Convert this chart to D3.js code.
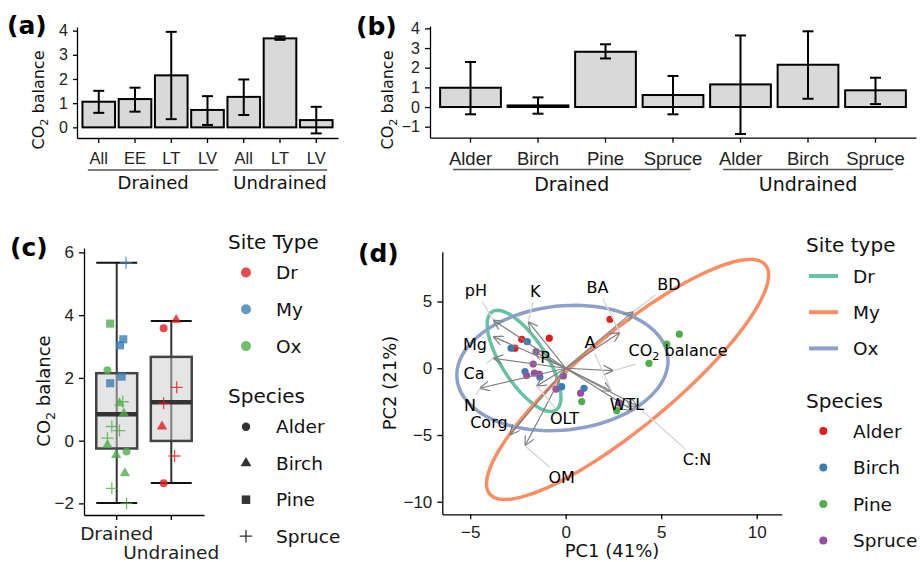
<!DOCTYPE html>
<html>
<head>
<meta charset="utf-8">
<script src="https://cdn.jsdelivr.net/npm/d3@7"></script>
<style>
    body { margin: 0; background: #fff; }
    svg { display: block; font-family: 'DejaVu Sans', sans-serif; }
    .axis path, .axis line { stroke: #000; stroke-width: 1.3; }
    .axis text { fill: #222; }
</style>
</head>
<body>
<div id="chart"></div>
<script>

// ---- (a) CO2 balance by drainage / sub-class ----
const aGroup = ["Drained", "Drained", "Drained", "Drained", "Undrained", "Undrained", "Undrained"];
const aLabel = ["All", "EE", "LT", "LV", "All", "LT", "LV"];
const aMean  = [1.06, 1.17, 2.15, 0.72, 1.26, 3.68, 0.30];
const aLow   = [0.60, 0.65, 0.34, 0.10, 0.51, 3.62, -0.25];
const aHigh  = [1.51, 1.64, 3.95, 1.29, 1.98, 3.76, 0.85];
const aTicks = [0, 1, 2, 3, 4];

// ---- (b) CO2 balance by species ----
const bGroup = ["Drained", "Drained", "Drained", "Drained", "Undrained", "Undrained", "Undrained"];
const bLabel = ["Alder", "Birch", "Pine", "Spruce", "Alder", "Birch", "Spruce"];
const bMean  = [0.98, 0.08, 2.81, 0.61, 1.15, 2.15, 0.85];
const bLow   = [-0.37, -0.34, 2.47, -0.37, -1.37, 0.42, 0.15];
const bHigh  = [2.29, 0.49, 3.19, 1.58, 3.64, 3.85, 1.49];
const bTicks = [-1, 0, 1, 2, 3, 4];

// ---- (c) boxplots + sites ----
const cBoxGroup = ["Drained", "Undrained"];
const cWhiskLo  = [-1.99, -1.35];
const cQ1       = [-0.25, -0.01];
const cMedian   = [0.84, 1.22];
const cQ3       = [2.15, 2.67];
const cWhiskHi  = [5.67, 3.81];

const cDrainage = ["Drained", "Drained", "Drained", "Drained", "Drained", "Drained", "Drained",
    "Drained", "Drained", "Drained", "Drained", "Drained", "Drained", "Drained", "Drained",
    "Drained", "Drained", "Drained", "Drained",
    "Undrained", "Undrained", "Undrained", "Undrained", "Undrained", "Undrained", "Undrained"];
const cSite = ["My", "Ox", "My", "My", "Ox", "My", "My", "Ox", "Ox", "Ox", "Ox", "Ox", "Ox",
    "Ox", "Ox", "Ox", "Ox", "Ox", "Ox",
    "Dr", "Dr", "Dr", "Dr", "Dr", "Dr", "Dr"];
const cSpecies = ["Spruce", "Pine", "Pine", "Pine", "Alder", "Pine", "Pine", "Spruce", "Birch",
    "Birch", "Spruce", "Spruce", "Spruce", "Birch", "Alder", "Birch", "Birch", "Spruce", "Spruce",
    "Birch", "Alder", "Spruce", "Spruce", "Birch", "Spruce", "Alder"];
const cValue = [5.67, 3.73, 3.23, 3.04, 2.24, 2.04, 1.83, 1.24, 1.19, 0.87, 0.45, 0.32, 0.08,
    -0.14, -0.35, -0.46, -1.04, -1.52, -2.00,
    3.85, 3.58, 1.70, 1.19, 0.45, -0.49, -1.36];
const cJitter = [0.17, -0.12, 0.12, 0.06, -0.17, 0.09, -0.12, 0.11, 0.05, 0.13, -0.09, 0.05, -0.17,
    -0.17, 0.18, -0.01, 0.15, -0.09, 0.18,
    0.09, -0.14, 0.10, -0.14, -0.17, 0.06, -0.14];
const cTicks = [-2, 0, 2, 4, 6];

// ---- (d) PCA biplot ----
const dSpecies = ["Alder", "Alder", "Alder", "Alder",
    "Birch", "Birch", "Birch", "Birch", "Birch", "Birch",
    "Pine", "Pine", "Pine", "Pine", "Pine",
    "Spruce", "Spruce", "Spruce", "Spruce", "Spruce", "Spruce", "Spruce", "Spruce", "Spruce"];
const dPC1 = [2.32, -0.86, -2.30, -2.65,
    -2.01, -2.86, -2.13, -1.35, -0.21, 0.96,
    0.84, 2.67, 5.95, 5.29, 4.36,
    -1.55, -1.70, -2.04, -1.64, -1.38, -0.12, -0.51, 0.78, 2.80];
const dPC2 = [3.67, 2.25, 2.17, 1.50,
    1.99, 1.50, -0.25, -0.67, -1.38, -1.50,
    -2.50, -3.18, 2.55, 1.80, 0.37,
    1.24, 0.32, -0.55, -0.37, -0.43, -0.58, -1.57, -1.87, -2.60];

const varName = ["pH", "K", "Mg", "Ca", "N", "Corg", "OM", "OLT", "P", "BA", "BD", "CO2", "A", "WTL", "C:N"];
const varPC1  = [-3.80, -1.96, -3.80, -3.80, -4.50, -2.92, -2.13, -1.52, -1.70, 2.84, 3.54, 2.49, 2.40, 3.50, 3.75];
const varPC2  = [3.62, 3.49, 2.37, 0.75, -1.50, -5.00, -5.80, -1.33, 1.30, 2.67, 4.24, -0.18, -1.70, -3.15, -2.85];
const labPC1  = [-4.70, -1.59, -4.75, -4.80, -5.01, -4.02, -0.21, -0.06, -1.08, 1.66, 5.41, 5.88, 1.27, 3.21, 6.87];
const labPC2  = [5.83, 5.77, 1.82, -0.35, -2.75, -4.02, -8.18, -3.76, 0.81, 6.05, 6.28, 1.37, 1.93, -2.71, -6.79];

const ellSite = ["Dr", "My", "Ox"];
const ellCx = [-2.18, 3.24, -0.17];
const ellCy = [0.55, -0.84, 0.02];
const ellUx = [1.67, 7.22, 5.52];
const ellUy = [-3.68, 8.58, 0.83];
const ellVx = [-0.97, 1.56, 0.34];
const ellVy = [-0.90, -2.69, -4.62];

const siteTypes = ["Dr", "My", "Ox"];
const speciesList = ["Alder", "Birch", "Pine", "Spruce"];

// colours
const siteColC = d3.scaleOrdinal().domain(siteTypes).range(["#E41A1C", "#377EB8", "#4DAF4A"]);
const siteColD = d3.scaleOrdinal().domain(siteTypes).range(["#66C2A5", "#FC8D62", "#8DA0CB"]);
const specColD = d3.scaleOrdinal().domain(speciesList).range(["#E41A1C", "#377EB8", "#4DAF4A", "#984EA3"]);

const intFmt = d3.format("d");

const svg = d3.select("#chart").append("svg")
    .attr("width", 920)
    .attr("height", 562);

// helpers
function panelTag(x, y, txt) {
    svg.append("text")
        .attr("x", x).attr("y", y)
        .attr("font-size", 25).attr("font-weight", "bold")
        .attr("fill", "#000")
        .text(txt);
}

function co2Text(t, fs, rest) {
    t.append("tspan").text("CO");
    t.append("tspan").attr("font-size", fs * 0.7).attr("dy", fs * 0.28).text("2");
    t.append("tspan").attr("dy", -fs * 0.28).text(rest);
}

function yTitleCO2(x, y, fs) {
    let t = svg.append("text")
        .attr("transform", `translate(${x},${y}) rotate(-90)`)
        .attr("text-anchor", "middle")
        .attr("font-size", fs)
        .attr("fill", "#111");
    co2Text(t, fs, " balance");
}

function shapePath(sp, scale) {
    let k = scale || 1;
    if (sp === "Spruce") {
        let h = 6 * k;
        return `M${-h},0H${h}M0,${-h}V${h}`;
    }
    let type = sp === "Alder" ? d3.symbolCircle : sp === "Birch" ? d3.symbolTriangle : d3.symbolSquare;
    let size = sp === "Alder" ? 50 : sp === "Birch" ? 46 : 66;
    return d3.symbol().type(type).size(size * k * k)();
}

// ---------- bar panels (a) & (b) ----------
function barPanel(cfg) {

    let idx = d3.range(cfg.labels.length);

    let x = d3.scaleBand().domain(idx).range(cfg.xr).paddingInner(0.1).paddingOuter(0.15);
    let y = d3.scaleLinear().domain(cfg.yd).range(cfg.yr);

    let g = svg.append("g");

    g.selectAll(".bar").data(idx).join("rect")
        .attr("class", "bar")
        .attr("x", i => x(i))
        .attr("width", x.bandwidth())
        .attr("y", i => y(Math.max(0, cfg.mean[i])))
        .attr("height", i => Math.abs(y(cfg.mean[i]) - y(0)))
        .attr("fill", "#d9d9d9")
        .attr("stroke", "#000")
        .attr("stroke-width", 2);

    // error bars
    let eb = g.selectAll(".eb").data(idx).join("g").attr("class", "eb")
        .attr("stroke", "#000").attr("stroke-width", 2);
    let cx = i => x(i) + x.bandwidth() / 2;
    eb.append("line").attr("x1", cx).attr("x2", cx)
        .attr("y1", i => y(cfg.low[i])).attr("y2", i => y(cfg.high[i]));
    eb.append("line").attr("x1", i => cx(i) - 5.5).attr("x2", i => cx(i) + 5.5)
        .attr("y1", i => y(cfg.low[i])).attr("y2", i => y(cfg.low[i]));
    eb.append("line").attr("x1", i => cx(i) - 5.5).attr("x2", i => cx(i) + 5.5)
        .attr("y1", i => y(cfg.high[i])).attr("y2", i => y(cfg.high[i]));

    // axes
    let yAxis = d3.axisLeft(y).tickValues(cfg.ticks).tickFormat(intFmt)
        .tickSize(cfg.ytick).tickSizeOuter(0).tickPadding(5);
    svg.append("g").attr("class", "axis")
        .attr("transform", `translate(${cfg.xr[0]},0)`)
        .call(yAxis)
        .call(s => s.selectAll("text").attr("font-size", cfg.yfs).attr("fill", "#222"));

    let xAxis = d3.axisBottom(x).tickFormat(i => cfg.labels[i]).tickSize(5).tickSizeOuter(0).tickPadding(9);
    svg.append("g").attr("class", "axis")
        .attr("transform", `translate(0,${cfg.yr[0]})`)
        .call(xAxis)
        .call(s => s.selectAll("text").attr("font-size", cfg.xfs).attr("fill", "#222"));

    // group underline + label
    let groups = Array.from(new Set(cfg.groups));
    groups.forEach(gname => {
        let members = idx.filter(i => cfg.groups[i] === gname);
        let x0 = cx(members[0]) - cfg.ext * x.step();
        let x1 = cx(members[members.length - 1]) + cfg.ext * x.step();
        svg.append("line")
            .attr("x1", x0).attr("x2", x1)
            .attr("y1", cfg.lineY).attr("y2", cfg.lineY)
            .attr("stroke", "#555").attr("stroke-width", 1.5);
        svg.append("text")
            .attr("x", (x0 + x1) / 2).attr("y", cfg.groupY)
            .attr("text-anchor", "middle")
            .attr("font-size", cfg.gfs).attr("fill", "#111")
            .text(gname);
    });
}

barPanel({
    labels: aLabel, groups: aGroup, mean: aMean, low: aLow, high: aHigh, ticks: aTicks,
    xr: [77, 338], yd: [-0.44, 4.15], yr: [138, 27], ytick: 4,
    yfs: 16, xfs: 16.5, gfs: 18, ext: 0.3, lineY: 170, groupY: 189
});
yTitleCO2(44, 100, 16);
panelTag(7, 34, "(a)");

barPanel({
    labels: bLabel, groups: bGroup, mean: bMean, low: bLow, high: bHigh, ticks: bTicks,
    xr: [430, 916], yd: [-1.56, 4.12], yr: [137.7, 26], ytick: 5,
    yfs: 16, xfs: 18.5, gfs: 19, ext: 0.26, lineY: 169.5, groupY: 191
});
yTitleCO2(393, 100, 16);
panelTag(356, 35, "(b)");

// ---------- (c) boxplot ----------
{
    let x = d3.scaleBand().domain(cBoxGroup).range([84, 204]).paddingInner(0.1).paddingOuter(0.15);
    let y = d3.scaleLinear().domain([-2.37, 6.14]).range([515, 248]);
    let cx = gname => x(gname) + x.bandwidth() / 2;
    let boxW = x.step() * 0.75;
    let idx = d3.range(cBoxGroup.length);

    let g = svg.append("g");

    // whiskers
    g.selectAll(".wh").data(idx).join("line")
        .attr("x1", i => cx(cBoxGroup[i])).attr("x2", i => cx(cBoxGroup[i]))
        .attr("y1", i => y(cWhiskLo[i])).attr("y2", i => y(cWhiskHi[i]))
        .attr("stroke", "#333").attr("stroke-width", 2);
    [cWhiskLo, cWhiskHi].forEach(arr => {
        g.selectAll(null).data(idx).join("line")
            .attr("x1", i => cx(cBoxGroup[i]) - boxW / 2).attr("x2", i => cx(cBoxGroup[i]) + boxW / 2)
            .attr("y1", i => y(arr[i])).attr("y2", i => y(arr[i]))
            .attr("stroke", "#111").attr("stroke-width", 2);
    });

    // boxes
    g.selectAll(".box").data(idx).join("rect")
        .attr("x", i => cx(cBoxGroup[i]) - boxW / 2)
        .attr("width", boxW)
        .attr("y", i => y(cQ3[i]))
        .attr("height", i => y(cQ1[i]) - y(cQ3[i]))
        .attr("fill", "#cccccc").attr("fill-opacity", 0.5)
        .attr("stroke", "#444").attr("stroke-width", 2.5);
    g.selectAll(".med").data(idx).join("line")
        .attr("x1", i => cx(cBoxGroup[i]) - boxW / 2).attr("x2", i => cx(cBoxGroup[i]) + boxW / 2)
        .attr("y1", i => y(cMedian[i])).attr("y2", i => y(cMedian[i]))
        .attr("stroke", "#333").attr("stroke-width", 4.5);

    // points
    g.selectAll(".pt").data(d3.range(cValue.length)).join("path")
        .attr("transform", i => `translate(${cx(cDrainage[i]) + cJitter[i] * x.step()},${y(cValue[i])})`)
        .attr("d", i => shapePath(cSpecies[i]))
        .attr("fill", i => cSpecies[i] === "Spruce" ? "none" : siteColC(cSite[i]))
        .attr("stroke", i => cSpecies[i] === "Spruce" ? siteColC(cSite[i]) : "none")
        .attr("stroke-width", 1.3)
        .attr("opacity", 0.8);

    // axes
    svg.append("g").attr("class", "axis")
        .attr("transform", "translate(84,0)")
        .call(d3.axisLeft(y).tickValues(cTicks).tickFormat(intFmt).tickSize(5).tickSizeOuter(0).tickPadding(5))
        .call(s => s.selectAll("text").attr("font-size", 17).attr("fill", "#222"));
    svg.append("g").attr("class", "axis")
        .attr("transform", "translate(0,515)")
        .call(d3.axisBottom(x).tickFormat("").tickSize(5).tickSizeOuter(0));
    cBoxGroup.forEach((gname, i) => {
        svg.append("text")
            .attr("x", cx(gname)).attr("y", i === 0 ? 540 : 559)
            .attr("text-anchor", "middle")
            .attr("font-size", 18.5).attr("fill", "#222")
            .text(gname);
    });

    yTitleCO2(50, 391, 18);
    panelTag(10, 256, "(c)");

    // legend
    let lg = svg.append("g");
    lg.append("text").attr("x", 228).attr("y", 249).attr("font-size", 20).attr("fill", "#111").text("Site Type");
    siteTypes.forEach((s, i) => {
        let yy = 272.5 + i * 36.8;
        lg.append("circle").attr("cx", 246).attr("cy", yy).attr("r", 5)
            .attr("fill", siteColC(s)).attr("opacity", 0.8);
        lg.append("text").attr("x", 276).attr("y", yy + 6.7).attr("font-size", 18.5).attr("fill", "#111").text(s);
    });
    lg.append("text").attr("x", 228).attr("y", 403).attr("font-size", 20).attr("fill", "#111").text("Species");
    speciesList.forEach((s, i) => {
        let yy = 426.7 + i * 36.5;
        lg.append("path")
            .attr("transform", `translate(246,${yy})`)
            .attr("d", shapePath(s, 1.05))
            .attr("fill", s === "Spruce" ? "none" : "#333")
            .attr("stroke", s === "Spruce" ? "#333" : "none")
            .attr("stroke-width", 1.3);
        lg.append("text").attr("x", 276).attr("y", yy + 6.7).attr("font-size", 18.5).attr("fill", "#111").text(s);
    });
}

// ---------- (d) PCA biplot ----------
{
    let x = d3.scaleLinear().domain([-6.46, 11.31]).range([442.3, 781.7]);
    let y = d3.scaleLinear().domain([-10.94, 8.73]).range([514.3, 251.7]);

    let defs = svg.append("defs");
    defs.append("marker")
        .attr("id", "arrow")
        .attr("viewBox", "0 0 10 10")
        .attr("refX", 10).attr("refY", 5)
        .attr("markerWidth", 10).attr("markerHeight", 10)
        .attr("markerUnits", "userSpaceOnUse")
        .attr("orient", "auto")
        .append("path")
        .attr("d", "M0,0L10,5L0,10")
        .attr("fill", "none")
        .attr("stroke", "#7f7f7f")
        .attr("stroke-width", 1.2);

    let g = svg.append("g");

    // ellipses
    let ellLine = d3.line().x(p => x(p[0])).y(p => y(p[1]));
    let ts = d3.range(0, 101).map(k => k / 100 * 2 * Math.PI);
    g.selectAll(".ell").data(d3.range(ellSite.length)).join("path")
        .attr("d", i => ellLine(ts.map(t => [
            ellCx[i] + Math.cos(t) * ellUx[i] + Math.sin(t) * ellVx[i],
            ellCy[i] + Math.cos(t) * ellUy[i] + Math.sin(t) * ellVy[i]
        ])))
        .attr("fill", "none")
        .attr("stroke", i => siteColD(ellSite[i]))
        .attr("stroke-width", 3.5);

    // sites
    g.selectAll(".site").data(d3.range(dPC1.length)).join("circle")
        .attr("cx", i => x(dPC1[i]))
        .attr("cy", i => y(dPC2[i]))
        .attr("r", 3.6)
        .attr("fill", i => specColD(dSpecies[i]));

    // loadings
    g.selectAll(".arr").data(d3.range(varName.length)).join("line")
        .attr("x1", x(0)).attr("y1", y(0))
        .attr("x2", i => x(varPC1[i])).attr("y2", i => y(varPC2[i]))
        .attr("stroke", "#7f7f7f").attr("stroke-width", 1.2)
        .attr("marker-end", "url(#arrow)");

    // labels + repel segments
    let segG = g.append("g");
    let labG = g.append("g");
    varName.forEach((v, i) => {
        let lx = x(labPC1[i]), ly = y(labPC2[i]);
        let t = labG.append("text")
            .attr("x", lx).attr("y", ly + 5.8)
            .attr("text-anchor", "middle")
            .attr("font-size", 16).attr("fill", "#000");
        if (v === "CO2") co2Text(t, 16, " balance");
        else t.text(v);

        let bb = t.node().getBBox();
        let tx = x(varPC1[i]), ty = y(varPC2[i]);
        let ccx = bb.x + bb.width / 2, ccy = bb.y + bb.height / 2;
        let dx = tx - ccx, dy = ty - ccy;
        let sx = dx === 0 ? Infinity : (bb.width / 2 + 2) / Math.abs(dx);
        let sy = dy === 0 ? Infinity : (bb.height / 2 + 1) / Math.abs(dy);
        let s = Math.min(sx, sy);
        if (s < 1) {
            let x0 = ccx + s * dx, y0 = ccy + s * dy;
            if (Math.hypot(tx - x0, ty - y0) > 7) {
                segG.append("line")
                    .attr("x1", x0).attr("y1", y0).attr("x2", tx).attr("y2", ty)
                    .attr("stroke", "#d6d6d6").attr("stroke-width", 1.4);
            }
        }
    });

    // axes
    svg.append("g").attr("class", "axis")
        .attr("transform", "translate(442.3,0)")
        .call(d3.axisLeft(y).tickValues([-10, -5, 0, 5]).tickSize(5).tickSizeOuter(0).tickPadding(5))
        .call(s => s.selectAll("text").attr("font-size", 17).attr("fill", "#222"));
    svg.append("g").attr("class", "axis")
        .attr("transform", "translate(0,514.3)")
        .call(d3.axisBottom(x).tickValues([-5, 0, 5, 10]).tickSize(5).tickSizeOuter(0).tickPadding(7))
        .call(s => s.selectAll("text").attr("font-size", 17).attr("fill", "#222"));

    svg.append("text")
        .attr("x", 612).attr("y", 557)
        .attr("text-anchor", "middle").attr("font-size", 18).attr("fill", "#111")
        .text("PC1 (41%)");
    svg.append("text")
        .attr("transform", "translate(396,383) rotate(-90)")
        .attr("text-anchor", "middle").attr("font-size", 18).attr("fill", "#111")
        .text("PC2 (21%)");

    panelTag(358, 262, "(d)");

    // legend
    let lg = svg.append("g");
    lg.append("text").attr("x", 806).attr("y", 251.5).attr("font-size", 20).attr("fill", "#111").text("Site type");
    siteTypes.forEach((s, i) => {
        let yy = 276 + i * 36.2;
        lg.append("line").attr("x1", 809).attr("x2", 838).attr("y1", yy).attr("y2", yy)
            .attr("stroke", siteColD(s)).attr("stroke-width", 4);
        lg.append("text").attr("x", 853).attr("y", yy + 6.7).attr("font-size", 18.5).attr("fill", "#111").text(s);
    });
    lg.append("text").attr("x", 806).attr("y", 408).attr("font-size", 20).attr("fill", "#111").text("Species");
    speciesList.forEach((s, i) => {
        let yy = 431 + i * 36.5;
        lg.append("circle").attr("cx", 823.3).attr("cy", yy).attr("r", 4).attr("fill", specColD(s));
        lg.append("text").attr("x", 853).attr("y", yy + 6.7).attr("font-size", 18.5).attr("fill", "#111").text(s);
    });
}

</script>
</body>
</html>
